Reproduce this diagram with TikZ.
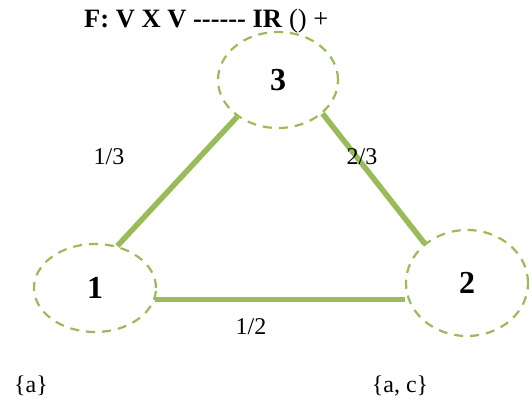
\documentclass[tikz,border=0pt]{standalone}
\usepackage{fontspec}
\setmainfont{Liberation Serif}
\usetikzlibrary{shapes.geometric}
\definecolor{lgreen}{RGB}{155,187,89}
\newcommand\hy{\mbox{-}}
\begin{document}
\begin{tikzpicture}[x=1pt,y=-1pt,
  vert/.style={ellipse,draw=lgreen,line width=2.2pt,dash pattern=on 9pt off 7pt,inner sep=0pt,font=\fontsize{32}{36}\selectfont\bfseries},
  edge/.style={draw=lgreen,line width=5.5pt},
  lbl/.style={font=\fontsize{24}{28}\selectfont,inner sep=0pt}]
\useasboundingbox (0,0) rectangle (532,404);
\node[vert,minimum width=120pt,minimum height=96pt] (n3) at (278,80) {3};
\node[vert,minimum width=122pt,minimum height=88pt] (n1) at (95,288) {1};
\node[vert,minimum width=122pt,minimum height=106pt] (n2) at (467,283) {2};
\draw[edge] (n1.62) -- (n3.222);
\draw[edge] (n3.323) -- (n2.137);
\draw[edge] (n1.349.4) -- (n1.349.4 -| n2.west);
\node[lbl] (l13) at (109,157) {1/3};
\node[lbl] (l23) at (362,157) {2/3};
\node[lbl] (l12) at (251,327) {1/2};
\node[lbl] (sa) at (31,386) {\{a\}};
\node[lbl] (sac) at (400,386) {\{a, c\}};
\node[lbl,anchor=west,font=\fontsize{26.5}{30}\selectfont] (title) at (84,21) {\textbf{F: V X V \hy\hy\hy\hy\hy\hy{} IR} () +};
\end{tikzpicture}
\end{document}
